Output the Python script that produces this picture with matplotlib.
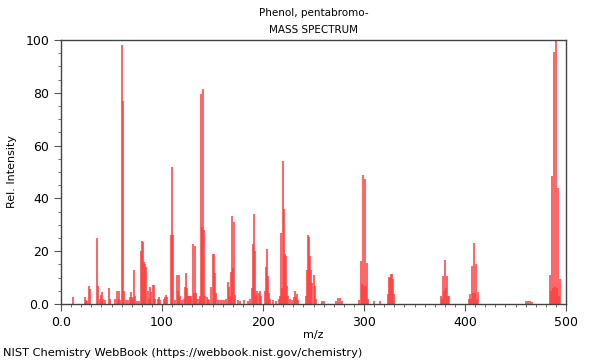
import matplotlib
matplotlib.use("Agg")
import matplotlib.pyplot as plt
from matplotlib.ticker import MultipleLocator, FixedLocator, FixedFormatter

title = "Phenol, pentabromo-"
subtitle = "MASS SPECTRUM"
xlabel = "m/z"
ylabel = "Rel. Intensity"
footer = "NIST Chemistry WebBook (https://webbook.nist.gov/chemistry)"

mz = [12, 24, 25, 26, 28, 29, 36, 37, 39, 40, 41, 42, 44, 48, 49,
      53, 55, 56, 57, 58, 60, 61, 62, 64, 66, 68, 69, 70, 71, 72, 73, 75, 77,
      79, 80, 81, 82, 83, 84, 86, 87, 88, 89, 91, 92, 93, 96, 97, 98,
      102, 103, 104, 105, 109, 110, 111, 113, 115, 116, 117, 118,
      120, 122, 123, 124, 125, 126, 127, 128, 129, 131, 132, 133, 134, 135,
      137, 138, 139, 140, 141, 142, 143, 145, 146, 147,
      149, 150, 151, 152, 153, 155, 157, 159, 161, 163, 165, 166, 167, 168, 169, 170, 171, 172,
      175, 177, 181, 185, 187, 189, 190, 191, 192, 193, 194, 196, 197, 198,
      202, 203, 204, 205, 206, 207, 210, 213, 216, 217, 218, 219, 220, 221, 222, 223, 224, 225,
      227, 229, 231, 232, 233, 234, 235,
      243, 244, 245, 246, 247, 248, 249, 250, 251, 252, 258, 260,
      272, 274, 276, 278, 295, 297, 298, 299, 300, 301, 302, 303, 304, 310, 316,
      324, 325, 326, 327, 328, 329, 330,
      376, 377, 378, 379, 380, 381, 382, 383, 384,
      404, 405, 406, 407, 408, 409, 410, 411, 412, 413,
      460, 462, 464, 466,
      484, 485, 486, 487, 488, 489, 490, 491, 492, 493, 494]
intensity = [2.5, 2.5, 1.5, 1, 7, 5.5, 25, 7, 2, 3.5, 4.5, 2, 1.5, 6, 2,
             2, 5, 2, 5, 1.5, 98, 77, 5, 1.5, 1.5, 2.8, 4.7, 2.7, 2, 13, 3, 1, 1,
             20, 24, 23.5, 16, 15, 14, 5, 2, 6.5, 4.7, 7.2, 7.2, 2, 2, 2.5, 1.5,
             2, 2.8, 3.5, 2.5, 26, 51.8, 26, 1.5, 11, 5, 11, 3,
             1.5, 2, 6.5, 11.6, 6, 3, 3, 3, 3, 22.8, 4, 22, 4, 2,
             2, 3, 79.5, 29, 81.4, 28, 3, 2.5, 2, 1.5,
             6.6, 18.8, 18.8, 11.7, 4, 1.5, 1.5, 1.5, 1.5, 2, 8.3, 6.5, 3, 12, 33.2, 13.5, 31, 3.5,
             1.5, 1, 1.5, 1, 2, 6, 22.6, 34, 20, 3.5, 5, 4, 5, 3,
             5, 14, 21, 10.5, 4, 2, 1.5, 1, 2, 3, 27, 6, 54, 36, 19, 18, 7, 3,
             2, 1.5, 2.8, 4.8, 2.5, 3.6, 1.5,
             3, 13, 26, 25.5, 18, 13, 8, 11, 7, 2, 1, 1,
             1, 2.4, 2.4, 1, 1.5, 16.3, 7.5, 48.9, 7, 47.2, 6.7, 15.5, 2, 1, 1,
             3.7, 10.4, 10, 11.4, 11.4, 9.6, 3.7,
             3, 2, 10.5, 5, 16.5, 6, 10.5, 3, 3,
             2, 3.8, 2, 14.5, 4, 23, 4, 15.3, 2, 4.7,
             1, 1.2, 1, 0.6,
             11, 5, 48.6, 6, 95.5, 6.5, 100, 6, 43.8, 3, 9.5]

xticks = [0, 100, 200, 300, 400, 500]
xticklabels = ["0.0", "100", "200", "300", "400", "500"]
yticks = [0, 20, 40, 60, 80, 100]
yticklabels = ["0.0", "20", "40", "60", "80", "100"]

fig = plt.figure(figsize=(6, 3.6), dpi=100)
ax = fig.add_axes([61/600, 1-304/360, 505/600, 264/360])
ax.vlines(mz, 0, intensity, colors="#ff3c3c", linewidth=1.3, alpha=0.85)
ax.set_xlim(0, 500)
ax.set_ylim(0, 100)
ax.xaxis.set_major_locator(FixedLocator(xticks))
ax.xaxis.set_major_formatter(FixedFormatter(xticklabels))
ax.yaxis.set_major_locator(FixedLocator(yticks))
ax.yaxis.set_major_formatter(FixedFormatter(yticklabels))
ax.xaxis.set_minor_locator(MultipleLocator(10))
ax.yaxis.set_minor_locator(MultipleLocator(5))
ax.tick_params(which="major", length=5, labelsize=9, color="#555555")
ax.tick_params(which="minor", length=2.5, color="#555555")
for s in ax.spines.values():
    s.set_color("#444444")
    s.set_linewidth(1.0)
ax.set_xlabel(xlabel, fontsize=8, labelpad=1)
ax.set_ylabel(ylabel, fontsize=8, labelpad=6)
cx = (61 + 566) / 2 / 600
fig.text(cx, 1-13/360, title, ha="center", va="center", fontsize=7.5)
fig.text(cx, 1-30/360, subtitle, ha="center", va="center", fontsize=7.5)
fig.text(3/600, 1-353/360, footer, ha="left", va="center", fontsize=8.2)
fig.savefig("out.png", dpi=100)
